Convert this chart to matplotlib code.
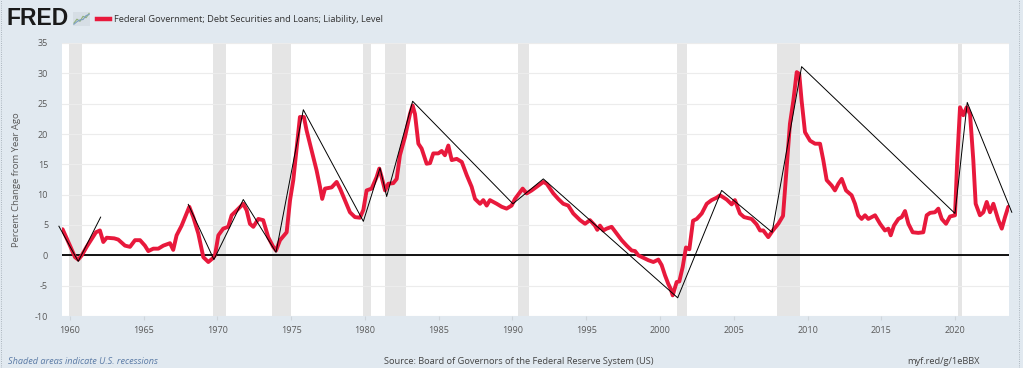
import matplotlib
matplotlib.use('Agg')
import matplotlib.pyplot as plt
from matplotlib.lines import Line2D

# ---------------- data ----------------
years = [1959.5, 1960.0, 1960.34, 1960.56, 1960.8, 1961.13, 1961.47, 1961.76, 1962.03, 1962.26,
         1962.49, 1963.0, 1963.27, 1963.73, 1964.07, 1964.41, 1964.75, 1965.08, 1965.31, 1965.65,
         1965.99, 1966.33, 1966.78, 1967.0, 1967.23, 1967.57, 1967.91, 1968.09, 1968.36, 1968.7,
         1969.04, 1969.38, 1969.67, 1969.83, 1970.06, 1970.39, 1970.73, 1970.96, 1971.3, 1971.75,
         1971.98, 1972.2, 1972.43, 1972.77, 1973.1, 1973.44, 1973.78, 1973.97, 1974.24, 1974.69,
         1974.92, 1975.14, 1975.59, 1975.86, 1976.04, 1976.38, 1976.72, 1976.95, 1977.1, 1977.29,
         1977.74, 1978.08, 1978.31, 1978.64, 1978.98, 1979.32, 1979.66, 1979.89, 1980.11, 1980.45,
         1980.79, 1980.97, 1981.13, 1981.36, 1981.58, 1981.92, 1982.15, 1982.37, 1982.71, 1983.05,
         1983.23, 1983.39, 1983.62, 1983.84, 1984.18, 1984.41, 1984.63, 1984.97, 1985.2, 1985.42,
         1985.65, 1985.88, 1986.22, 1986.56, 1986.9, 1987.23, 1987.46, 1987.8, 1988.02, 1988.25,
         1988.47, 1988.93, 1989.27, 1989.6, 1989.94, 1990.17, 1990.69, 1990.96, 1991.3, 1991.64,
         1992.09, 1992.32, 1992.77, 1993.1, 1993.44, 1993.78, 1994.12, 1994.58, 1994.92, 1995.25,
         1995.59, 1995.75, 1995.93, 1996.16, 1996.38, 1996.72, 1997.06, 1997.4, 1997.74, 1998.08,
         1998.31, 1998.53, 1998.87, 1999.21, 1999.55, 1999.89, 2000.11, 2000.34, 2000.56, 2000.72,
         2000.86, 2001.13, 2001.31, 2001.54, 2001.76, 2001.99, 2002.24, 2002.49, 2002.83, 2003.17,
         2003.5, 2003.84, 2004.07, 2004.52, 2004.86, 2005.08, 2005.42, 2005.7, 2006.21, 2006.55,
         2006.78, 2007.0, 2007.34, 2007.62, 2008.02, 2008.34, 2008.59, 2008.81, 2009.04, 2009.27,
         2009.44, 2009.6, 2009.83, 2010.17, 2010.51, 2010.85, 2011.07, 2011.3, 2011.64, 2011.86,
         2012.09, 2012.32, 2012.61, 2012.99, 2013.22, 2013.44, 2013.67, 2013.9, 2014.12, 2014.58,
         2014.92, 2015.25, 2015.48, 2015.64, 2015.86, 2016.16, 2016.39, 2016.61, 2016.84, 2017.13,
         2017.51, 2017.85, 2018.08, 2018.31, 2018.64, 2018.87, 2019.1, 2019.39, 2019.66, 2020.0,
         2020.15, 2020.34, 2020.56, 2020.79, 2021.02, 2021.24, 2021.4, 2021.69, 2021.92, 2022.15,
         2022.37, 2022.6, 2022.94, 2023.17, 2023.39, 2023.61]
values = [4.3, 1.6, -0.3, -0.7, 0.0, 1.4, 2.7, 3.8, 4.1, 2.2,
          2.9, 2.8, 2.6, 1.6, 1.4, 2.5, 2.5, 1.6, 0.7, 1.1,
          1.1, 1.6, 2.0, 0.9, 3.3, 4.9, 6.9, 8.0, 6.3, 3.6,
          -0.3, -1.1, -0.5, 0.0, 3.3, 4.4, 4.7, 6.6, 7.4, 8.5,
          7.4, 5.2, 4.7, 6.0, 5.8, 3.0, 1.4, 0.8, 2.5, 3.8,
          9.1, 12.4, 22.8, 22.8, 20.6, 17.3, 14.0, 11.3, 9.3, 11.0,
          11.2, 12.1, 11.0, 9.1, 7.1, 6.3, 6.2, 7.5, 10.7, 11.0,
          12.9, 14.3, 12.9, 10.7, 11.8, 11.9, 12.6, 16.5, 19.5, 23.3,
          24.7, 23.3, 18.4, 17.6, 15.1, 15.2, 16.8, 16.8, 17.2, 16.5,
          18.1, 15.7, 15.9, 15.4, 13.2, 11.3, 9.3, 8.5, 9.1, 8.2,
          9.1, 8.5, 8.0, 7.7, 8.2, 9.3, 11.0, 10.2, 10.7, 11.3,
          12.1, 11.8, 10.2, 9.3, 8.5, 8.2, 6.9, 5.8, 5.2, 5.8,
          4.9, 4.2, 4.9, 4.1, 4.4, 4.7, 3.6, 2.5, 1.6, 0.8,
          0.7, 0.0, -0.4, -0.8, -1.1, -0.7, -1.6, -3.3, -4.7, -5.5,
          -6.6, -4.4, -4.3, -1.9, 1.3, 1.0, 5.7, 6.0, 6.9, 8.5,
          9.1, 9.5, 9.9, 9.2, 8.4, 9.1, 6.9, 6.3, 6.0, 5.1,
          4.1, 4.1, 3.0, 4.0, 5.2, 6.5, 14.5, 21.7, 25.5, 30.2,
          29.9, 25.5, 20.3, 18.9, 18.4, 18.4, 15.7, 12.4, 11.5, 10.7,
          11.8, 12.6, 10.7, 9.9, 8.5, 6.6, 6.0, 6.6, 6.0, 6.6,
          5.2, 4.1, 4.4, 3.3, 4.9, 6.0, 6.3, 7.3, 5.2, 3.8,
          3.7, 3.8, 6.6, 7.0, 7.1, 7.7, 6.0, 5.2, 6.4, 6.6,
          15.7, 24.4, 23.1, 24.4, 23.3, 15.7, 8.5, 6.6, 7.1, 8.8,
          7.1, 8.5, 5.8, 4.4, 6.3, 8.0]

# hand-drawn trend annotations (black thin lines)
ann1_years = [1959.25, 1960.56, 1962.08]
ann1_values = [4.8, -1.0, 6.3]
ann2_years = [1968.02, 1969.76, 1971.75, 1973.97, 1975.82, 1979.89, 1981.02, 1981.47,
              1983.23, 1990.03, 1992.09, 2001.2, 2004.18, 2007.6, 2009.6, 2020.0,
              2020.83, 2023.85]
ann2_values = [8.4, -0.7, 9.2, 0.5, 24.0, 5.6, 14.4, 9.7,
               25.4, 8.5, 12.6, -7.0, 10.7, 3.8, 31.1, 6.9,
               25.2, 7.1]

# recession shading (as positioned in the chart)
rec_start = [1959.95, 1969.72, 1973.67, 1979.89, 1981.36, 1990.39, 2001.13, 2007.95, 2020.22]
rec_end = [1960.83, 1970.58, 1974.98, 1980.39, 1982.76, 1991.14, 2001.85, 2009.49, 2020.45]

x_ticks = [1960, 1965, 1970, 1975, 1980, 1985, 1990, 1995, 2000, 2005, 2010, 2015, 2020]
y_ticks = [-10, -5, 0, 5, 10, 15, 20, 25, 30, 35]

series_title = "Federal Government; Debt Securities and Loans; Liability, Level"
y_label = "Percent Change from Year Ago"
source_text = "Source: Board of Governors of the Federal Reserve System (US)"
link_text = "myf.red/g/1eBBX"
note_text = "Shaded areas indicate U.S. recessions"

# ---------------- layout ----------------
W, H = 1023, 368
def fx(px):
    return px / W
def fy(py):
    return 1 - py / H

BG = '#e1e9f0'
RED = '#e8193c'
GREY_TXT = '#595959'
FONT = 'Open Sans'

fig = plt.figure(figsize=(W / 100, H / 100), dpi=100)
fig.patch.set_facecolor(BG)

ax = fig.add_axes([fx(62), fy(316), fx(1009) - fx(62), fy(43) - fy(316)])
ax.set_facecolor('white')
ax.set_xlim(1959.46, 2023.66)
ax.set_ylim(-10, 35)

for s, e in zip(rec_start, rec_end):
    ax.axvspan(s, e, color='#e5e5e5', lw=0, zorder=0)

for yv in y_ticks:
    ax.axhline(yv, color='#ececec', lw=0.8, zorder=0.5)
ax.axhline(0, color='black', lw=1.3, zorder=2)

ax.plot(years, values, color=RED, lw=2.8, solid_joinstyle='round',
        solid_capstyle='round', zorder=3)
ax.plot(ann1_years, ann1_values, color='black', lw=0.7, zorder=4, clip_on=False)
ax.plot(ann2_years, ann2_values, color='black', lw=0.7, zorder=4, clip_on=False)

for sp in ax.spines.values():
    sp.set_visible(False)

ax.set_yticks(y_ticks)
ax.set_yticklabels([str(v) for v in y_ticks])
ax.set_xticks(x_ticks)
ax.set_xticklabels([str(v) for v in x_ticks])
ax.tick_params(axis='y', length=0, pad=10, labelsize=6.5, labelcolor=GREY_TXT)
ax.tick_params(axis='x', length=3, color='#cfd6dc', pad=4, labelsize=6.5,
               labelcolor=GREY_TXT)
for lbl in ax.get_xticklabels() + ax.get_yticklabels():
    lbl.set_fontfamily(FONT)

fig.text(fx(17), fy(180), y_label, rotation=90, ha='center', va='center',
         fontsize=6.8, color=GREY_TXT, family=FONT)

# header: FRED logo, icon, legend
fig.text(fx(7), fy(18.5), 'FRED', ha='left', va='center', fontsize=16.5,
         fontweight='bold', color='#1a1a1a', family='Liberation Sans')
icon = fig.add_axes([fx(73), fy(26), fx(90) - fx(73), fy(12) - fy(26)])
icon.set_facecolor('#d6dee5')
icon.plot([0, 1, 2, 3, 4, 5], [0.5, 1.6, 1.0, 2.4, 2.0, 3.2], color='#8fb07a', lw=0.8)
icon.plot([0, 1, 2, 3, 4, 5], [0.2, 0.9, 1.4, 1.5, 2.6, 2.9], color='#7b9fc0', lw=0.8)
icon.set_xlim(-0.3, 5.3)
icon.set_ylim(-0.3, 3.6)
icon.set_xticks([])
icon.set_yticks([])
for sp in icon.spines.values():
    sp.set_visible(False)

fig.add_artist(Line2D([fx(97), fx(110)], [fy(19), fy(19)], color=RED, lw=3.2,
                      transform=fig.transFigure))
fig.text(fx(113.5), fy(19), series_title, ha='left', va='center', fontsize=6.7,
         color='#333333', family=FONT)

# footer
fig.text(fx(8), fy(362), note_text, ha='left', va='center', fontsize=6.6,
         color='#5b7ba6', style='italic', family=FONT)
fig.text(fx(519), fy(361.5), source_text, ha='center', va='center', fontsize=6.7,
         color='#444444', family=FONT)
fig.text(fx(943), fy(361.5), link_text, ha='center', va='center', fontsize=6.7,
         color='#444444', family=FONT)

# dotted screenshot borders
fig.add_artist(Line2D([fx(1), fx(1)], [0, 1], color='#9aa4ad', lw=0.6, ls=':',
                      transform=fig.transFigure))
fig.add_artist(Line2D([fx(1018.5), fx(1018.5)], [0, 1], color='#9aa4ad', lw=0.6, ls=':',
                      transform=fig.transFigure))

fig.savefig('out.png', dpi=100, facecolor=BG)
